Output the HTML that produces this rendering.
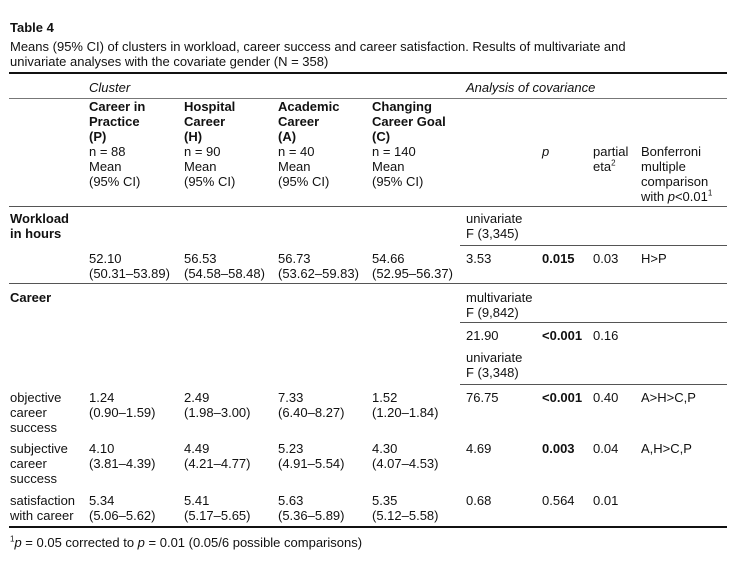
<!DOCTYPE html>
<html><head><meta charset="utf-8"><style>
body{margin:0;background:#fff;width:740px;height:570px;position:relative;overflow:hidden;font-family:"Liberation Sans",Arial,sans-serif;font-size:13px;color:#111;}
.t{position:absolute;line-height:15px;white-space:nowrap;}
.b{font-weight:bold;}
.i{font-style:italic;}
.l{position:absolute;height:0;}
sup{font-size:8px;line-height:0;}
</style></head><body>
<div class="t b" style="left:10px;top:20px">Table 4</div>
<div class="t" style="left:10px;top:39px">Means (95% CI) of clusters in workload, career success and career satisfaction. Results of multivariate and<br>univariate analyses with the covariate gender (N = 358)</div>
<div class="l" style="left:9px;width:718px;top:72px;border-top:2px solid #111"></div>
<div class="t i" style="left:89px;top:80px">Cluster</div>
<div class="t i" style="left:466px;top:80px">Analysis of covariance</div>
<div class="l" style="left:9px;width:718px;top:98px;border-top:1px solid #777"></div>

<div class="t" style="left:89px;top:99px"><span class="b">Career in<br>Practice<br>(P)</span><br>n = 88<br>Mean<br>(95% CI)</div>
<div class="t" style="left:184px;top:99px"><span class="b">Hospital<br>Career<br>(H)</span><br>n = 90<br>Mean<br>(95% CI)</div>
<div class="t" style="left:278px;top:99px"><span class="b">Academic<br>Career<br>(A)</span><br>n = 40<br>Mean<br>(95% CI)</div>
<div class="t" style="left:372px;top:99px"><span class="b">Changing<br>Career Goal<br>(C)</span><br>n = 140<br>Mean<br>(95% CI)</div>
<div class="t i" style="left:542px;top:144px">p</div>
<div class="t" style="left:593px;top:144px">partial<br>eta<sup>2</sup></div>
<div class="t" style="left:641px;top:144px">Bonferroni<br>multiple<br>comparison<br>with <i>p</i>&lt;0.01<sup>1</sup></div>
<div class="l" style="left:9px;width:718px;top:206px;border-top:1px solid #555"></div>

<div class="t b" style="left:10px;top:211px">Workload<br>in hours</div>
<div class="t" style="left:466px;top:211px">univariate<br>F (3,345)</div>
<div class="l" style="left:460px;width:267px;top:245px;border-top:1px solid #555"></div>
<div class="t" style="left:89px;top:251px">52.10<br>(50.31–53.89)</div>
<div class="t" style="left:184px;top:251px">56.53<br>(54.58–58.48)</div>
<div class="t" style="left:278px;top:251px">56.73<br>(53.62–59.83)</div>
<div class="t" style="left:372px;top:251px">54.66<br>(52.95–56.37)</div>
<div class="t" style="left:466px;top:251px">3.53</div>
<div class="t b" style="left:542px;top:251px">0.015</div>
<div class="t" style="left:593px;top:251px">0.03</div>
<div class="t" style="left:641px;top:251px">H&gt;P</div>
<div class="l" style="left:9px;width:718px;top:283px;border-top:1px solid #555"></div>

<div class="t b" style="left:10px;top:290px">Career</div>
<div class="t" style="left:466px;top:290px">multivariate<br>F (9,842)</div>
<div class="l" style="left:460px;width:267px;top:322px;border-top:1px solid #555"></div>
<div class="t" style="left:466px;top:328px">21.90</div>
<div class="t b" style="left:542px;top:328px">&lt;0.001</div>
<div class="t" style="left:593px;top:328px">0.16</div>
<div class="t" style="left:466px;top:350px">univariate<br>F (3,348)</div>
<div class="l" style="left:460px;width:267px;top:384px;border-top:1px solid #555"></div>

<div class="t" style="left:10px;top:390px">objective<br>career<br>success</div>
<div class="t" style="left:89px;top:390px">1.24<br>(0.90–1.59)</div>
<div class="t" style="left:184px;top:390px">2.49<br>(1.98–3.00)</div>
<div class="t" style="left:278px;top:390px">7.33<br>(6.40–8.27)</div>
<div class="t" style="left:372px;top:390px">1.52<br>(1.20–1.84)</div>
<div class="t" style="left:466px;top:390px">76.75</div>
<div class="t b" style="left:542px;top:390px">&lt;0.001</div>
<div class="t" style="left:593px;top:390px">0.40</div>
<div class="t" style="left:641px;top:390px">A&gt;H&gt;C,P</div>

<div class="t" style="left:10px;top:441px">subjective<br>career<br>success</div>
<div class="t" style="left:89px;top:441px">4.10<br>(3.81–4.39)</div>
<div class="t" style="left:184px;top:441px">4.49<br>(4.21–4.77)</div>
<div class="t" style="left:278px;top:441px">5.23<br>(4.91–5.54)</div>
<div class="t" style="left:372px;top:441px">4.30<br>(4.07–4.53)</div>
<div class="t" style="left:466px;top:441px">4.69</div>
<div class="t b" style="left:542px;top:441px">0.003</div>
<div class="t" style="left:593px;top:441px">0.04</div>
<div class="t" style="left:641px;top:441px">A,H&gt;C,P</div>

<div class="t" style="left:10px;top:493px">satisfaction<br>with career</div>
<div class="t" style="left:89px;top:493px">5.34<br>(5.06–5.62)</div>
<div class="t" style="left:184px;top:493px">5.41<br>(5.17–5.65)</div>
<div class="t" style="left:278px;top:493px">5.63<br>(5.36–5.89)</div>
<div class="t" style="left:372px;top:493px">5.35<br>(5.12–5.58)</div>
<div class="t" style="left:466px;top:493px">0.68</div>
<div class="t" style="left:542px;top:493px">0.564</div>
<div class="t" style="left:593px;top:493px">0.01</div>
<div class="l" style="left:9px;width:718px;top:526px;border-top:2px solid #111"></div>
<div class="t" style="left:10px;top:535px"><sup>1</sup><i>p</i> = 0.05 corrected to <i>p</i> = 0.01 (0.05/6 possible comparisons)</div>
</body></html>
